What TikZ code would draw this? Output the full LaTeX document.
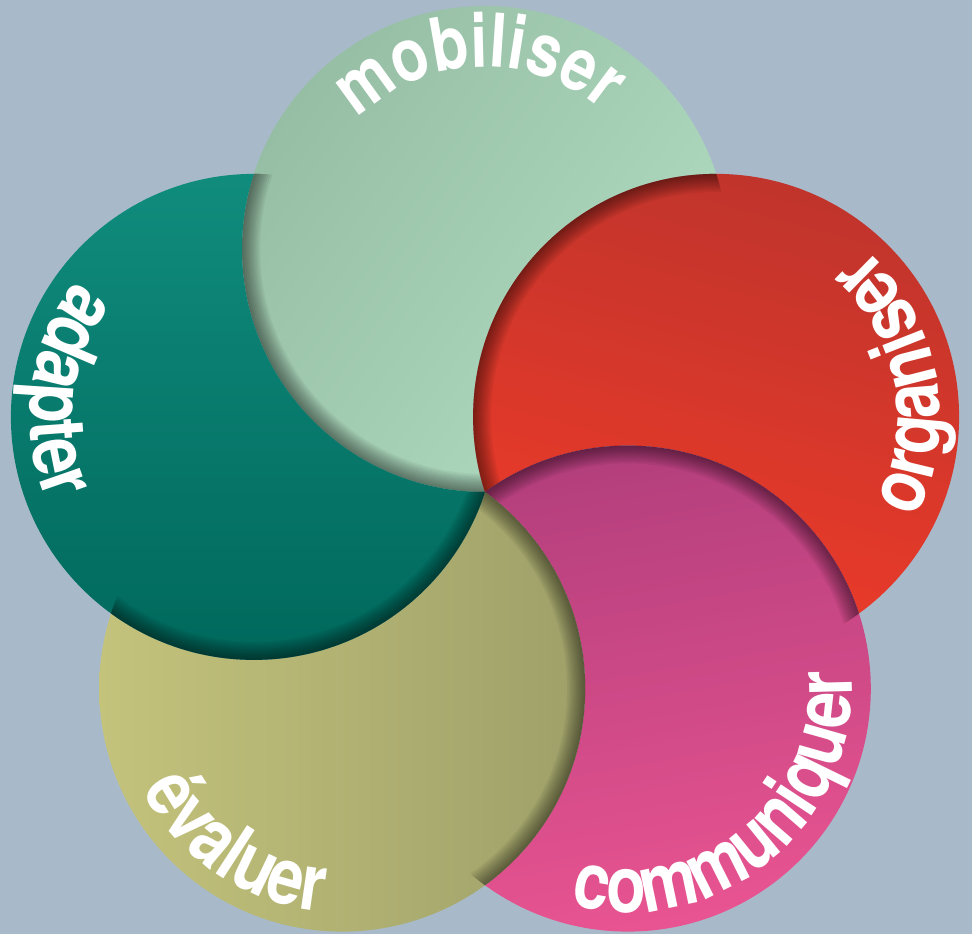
\documentclass[tikz,border=0pt]{standalone}
\usepackage{fontspec}
\newfontfamily\labfont[FakeStretch=0.82]{TeX Gyre Heros}
\usetikzlibrary{decorations.text,calc}
\definecolor{bgc}{HTML}{A8BACA}
\newcommand\R{243}
\newcommand\notdisc[1]{\clip (-10,-10) -- (-10,944) -- (982,944) -- (982,-10) -- cycle (#1) circle[radius=\R];}
\newcommand\edgeshade[1]{\foreach \k [evaluate=\k as \w using \k*3.6] in {1,...,10}{\draw[black, opacity=0.05, line width=\w pt] (#1) circle[radius=\R];}}
\newcommand\lab{\labfont\bfseries\fontsize{79}{79}\selectfont}
\newcommand\labtop{\labfont\bfseries\fontsize{74}{74}\selectfont}
\tikzset{
  labelpath/.style={decorate, decoration={text along path, text align=center, text color=white, text={|\lab|#1}}},
  toplabelpath/.style={decorate, decoration={text along path, text align=center, text color=white, text={|\labtop|#1}}}
}
\begin{document}
\begin{tikzpicture}[x=1pt,y=1pt]
\fill[bgc] (0,0) rectangle (972,934);
\useasboundingbox (0,0) rectangle (972,934);
\coordinate (P) at (485,442);
\coordinate (G) at (485,685);
\coordinate (Rd) at (716.1,517.1);
\coordinate (Pk) at (627.8,245.4);
\coordinate (O) at (342.2,245.4);
\coordinate (T) at (253.9,517.1);
% mobiliser (under Rd, Pk; over T)
\begin{scope}[even odd rule]
 \notdisc{Rd}\notdisc{Pk}
 \shade[left color={rgb,255:red,150;green,190;blue,164}, right color={rgb,255:red,176;green,220;blue,194}, shading angle=55] (G) circle[radius=\R];
 \begin{scope}\clip (G) circle[radius=\R]; \clip (T) circle[radius=\R]; \edgeshade{G}\end{scope}
\end{scope}
% organiser
\begin{scope}[even odd rule]
 \notdisc{Pk}\notdisc{O}
 \shade[left color={rgb,255:red,192;green,52;blue,44}, right color={rgb,255:red,240;green,59;blue,41}, shading angle=-15] (Rd) circle[radius=\R];
 \begin{scope}\clip (Rd) circle[radius=\R]; \clip (G) circle[radius=\R]; \edgeshade{Rd}\end{scope}
\end{scope}
% communiquer
\begin{scope}[even odd rule]
 \notdisc{O}\notdisc{T}
 \shade[top color={rgb,255:red,178;green,62;blue,124}, bottom color={rgb,255:red,232;green,84;blue,145}, shading angle=10] (Pk) circle[radius=\R];
 \begin{scope}\clip (Pk) circle[radius=\R]; \clip (Rd) circle[radius=\R]; \edgeshade{Pk}\end{scope}
\end{scope}
% evaluer
\begin{scope}[even odd rule]
 \notdisc{T}\notdisc{G}
 \shade[left color={rgb,255:red,196;green,195;blue,124}, right color={rgb,255:red,158;green,160;blue,105}] (O) circle[radius=\R];
 \begin{scope}\clip (O) circle[radius=\R]; \clip (Pk) circle[radius=\R]; \edgeshade{O}\end{scope}
\end{scope}
% adapter
\begin{scope}[even odd rule]
 \notdisc{G}\notdisc{Rd}
 \shade[top color={rgb,255:red,16;green,140;blue,125}, bottom color={rgb,255:red,0;green,104;blue,92}] (T) circle[radius=\R];
 \begin{scope}\clip (T) circle[radius=\R]; \clip (O) circle[radius=\R]; \edgeshade{T}\end{scope}
\end{scope}
% labels
\path[toplabelpath=mobiliser] ($(G)+(172:182)$) arc[start angle=172, end angle=12, radius=182];
\path[labelpath=organiser] ($(Rd)+(-69:224)$) arc[start angle=-69, end angle=91, radius=224];
\path[labelpath=communiquer] ($(Pk)+(-140:224)$) arc[start angle=-140, end angle=40, radius=224];
\path[labelpath=évaluer] ($(O)+(166:224)$) arc[start angle=166, end angle=306, radius=224];
\path[labelpath=adapter] ($(T)+(100:224)$) arc[start angle=100, end angle=245, radius=224];
\end{tikzpicture}
\end{document}
